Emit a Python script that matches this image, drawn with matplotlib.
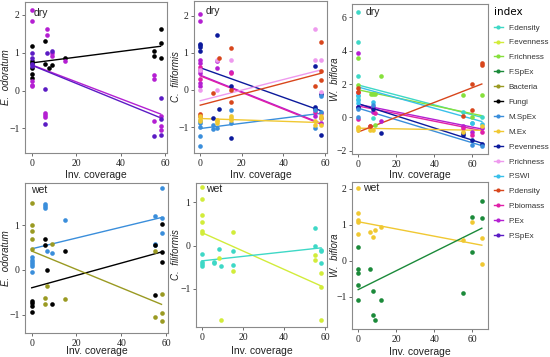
import matplotlib
matplotlib.use("Agg")
import matplotlib.pyplot as plt
from matplotlib.lines import Line2D

# colour for each index (legend order)
index_names = ["F.density", "F.evenness", "F.richness", "F.SpEx", "Bacteria", "Fungi",
               "M.SpEx", "M.Ex", "P.evenness", "P.richness", "P.SWI", "P.density",
               "P.biomass", "P.Ex", "P.SpEx"]
index_colors = ["#3ed8c6", "#d2ec3a", "#86e03c", "#1b8a3a", "#9a9a22", "#000000",
                "#3a8edb", "#f0c832", "#0c1a9c", "#ee9aee", "#38c0ea", "#d8461c",
                "#e020a8", "#b41fd2", "#5b1bc4"]

# each panel: index -> (x, y); fits: index -> (y at min x, y at max x)
eo_dry = {
    "Fungi": ([0, 0, 0, 0, 0, 0, 6, 6, 8, 9, 15, 55, 55, 58, 58, 58],
              [1.17, 0.79, 0.73, 0.6, 0.44, 0.33, 1.31, 0.71, 0.6, 0.68, 0.87, 1.04, 0.91, 1.62, 1.26, 0.87]),
    "P.Ex": ([0, 0, 0, 0, 0, 7, 7, 6, 6, 6, 9, 9, 15, 55, 55, 55, 58, 58, 58],
             [2.12, 1.83, 0.24, 0.16, 0.11, 1.62, 1.47, -0.6, -0.65, -0.7, 1.0, 0.9, 0.77, 0.42, 0.31, -0.8, -0.93, -1.05, -0.68]),
    "P.SpEx": ([0, 0, 0, 0, 6, 6, 7, 9, 55, 58, 58, 58],
               [1.0, 0.86, 0.7, 0.64, 0.05, -0.88, 1.0, 1.04, -1.2, -0.2, -0.75, -1.18]),
}
eo_dry_fit = {"Fungi": (0.73, 1.17), "P.Ex": (0.68, -0.62), "P.SpEx": (0.67, -0.72)}

cf_dry = {
    "P.Ex": ([0, 0, 0, 0, 0, 0, 0, 0, 8, 8, 15, 55, 58, 58],
             [2.05, 1.85, 0.8, 0.72, 0.55, 0.45, 0.2, 0.1, 0.78, 0.6, 0.48, -0.7, -0.9, -0.75]),
    "P.biomass": ([0, 0, 15, 55, 58],
                  [0.3, 0.62, 0.46, -0.6, -0.62]),
    "P.evenness": ([0, 0, 0, 0, 8, 9, 6, 15, 15, 55, 55, 55, 58, 58],
                   [1.25, 1.2, 1.15, 1.05, 1.48, -0.5, -0.75, 0.1, -1.3, 0.65, -0.45, -0.5, -1.22, -0.1]),
    "P.richness": ([0, 0, 8, 8, 15, 55, 55, 58, 58],
                   [0.0, 0.55, 0.0, 0.8, 0.8, 1.65, 0.8, 0.8, -0.05]),
    "P.density": ([0, 0, 6, 9, 15, 15, 15, 55, 58, 58, 58],
                  [-0.65, -0.7, -0.08, 0.85, 1.12, 0.0, -0.32, 0.12, 1.3, 0.5, 0.28]),
    "M.SpEx": ([0, 0, 0, 0, 0, 6, 6, 8, 15, 15, 55, 55, 58, 58],
               [-1.5, -1.25, -1.0, -0.9, -0.85, -1.05, -0.95, -1.02, -0.55, -0.9, -1.02, -0.55, -0.15, -0.6]),
    "M.Ex": ([0, 0, 0, 8, 8, 8, 15, 15, 15, 55, 55, 58, 58, 58],
             [-0.7, -0.78, -0.85, -0.8, -0.85, -0.9, -0.7, -0.75, -0.8, -0.85, -0.95, -0.7, -0.95, -0.75]),
}
cf_dry_fit = {"P.Ex": (0.4, -0.9), "P.biomass": (0.38, -0.92), "P.evenness": (0.6, -0.56),
              "P.richness": (-0.29, 0.54), "P.density": (-0.41, 0.45),
              "M.SpEx": (-1.04, -0.63), "M.Ex": (-0.77, -0.88)}

wb_dry = {
    "F.density": ([0, 0, 0, 0, 0, 8, 55, 60, 65],
                  [6.32, 4.54, 2.48, 1.3, 1.1, -0.06, 0.34, -0.36, 0.04]),
    "F.richness": ([0, 0, 7, 8, 9, 12, 9, 55, 60, 65],
                   [3.58, 1.94, 1.38, 1.38, 1.38, 2.48, -0.46, 1.36, 0.04, 1.36]),
    "P.SWI": ([0, 0, 0, 8, 60, 65],
              [1.34, 1.04, 0.84, 0.94, -0.36, -0.4]),
    "P.Ex": ([0, 0, 8, 8, 12, 55, 60, 65],
             [3.88, 0.64, 0.64, 0.3, -0.2, -0.52, -0.86, -0.66]),
    "P.biomass": ([0, 0, 6, 9, 55, 60, 65],
                  [1.5, -0.1, -0.5, 0.24, -0.64, -1.06, -0.86]),
    "P.evenness": ([0, 8, 12, 55, 55, 60, 65],
                   [0.6, 0.5, -0.96, -0.96, -1.06, -1.36, -1.6]),
    "M.SpEx": ([0, 0, 8, 60, 65],
               [0.04, 0.5, 0.74, -1.66, -1.7]),
    "M.Ex": ([0, 0, 0, 6, 8, 55, 65],
             [-0.56, -0.66, -0.76, -0.76, -0.76, -0.86, -0.52]),
    "P.density": ([0, 0, 6, 55, 60, 60, 65, 65],
                  [1.74, 1.5, -0.52, 0.08, 1.98, 0.44, 3.28, 3.14]),
}
wb_dry_fit = {"F.density": (1.94, 0.0), "F.richness": (1.65, 0.1), "P.SWI": (1.82, -0.25),
              "P.Ex": (0.78, -0.7), "P.biomass": (0.68, -0.8), "P.evenness": (0.82, -1.55),
              "M.SpEx": (0.55, -1.7), "M.Ex": (-0.65, -0.78), "P.density": (-0.88, 2.0)}

eo_wet = {
    "M.SpEx": ([0, 0, 0, 0, 0, 0, 6, 6, 6, 7, 9, 15, 55, 55, 55, 58, 58, 58],
               [0.28, 0.22, 0.17, 0.12, 0.08, -0.05, 1.47, 1.43, 1.38, 0.43, 0.37, 1.11, 1.2, 0.58, 0.55, 1.83, 1.16, 0.83]),
    "Fungi": ([0, 0, 0, 0, 6, 6, 7, 9, 15, 55, 55, 58, 58, 58],
              [-0.7, -0.75, -0.8, -0.93, 0.7, 0.55, -0.01, -0.77, 0.43, 0.55, -0.56, 1.02, 0.4, 0.18]),
    "Bacteria": ([0, 0, 0, 0, 0, 6, 6, 7, 9, 15, 55, 55, 58, 58, 58],
                 [1.5, 1.01, 0.87, 0.68, 0.47, -0.62, -0.77, -0.35, 0.58, -0.65, 0.43, -1.06, -0.53, -0.96, -1.15]),
}
eo_wet_fit = {"M.SpEx": (0.47, 1.17), "Fungi": (-0.4, 0.4), "Bacteria": (0.42, -0.77)}

cf_wet = {
    "F.evenness": ([0, 0, 0, 0, 0, 0, 8, 9, 15, 15, 55, 55, 58, 58, 58],
                   [1.35, 1.08, 0.72, 0.55, 0.33, 0.3, -0.28, -1.72, 0.32, -0.58, -0.22, -0.33, -0.62, -0.95, -1.72]),
    "F.density": ([0, 0, 0, 0, 6, 6, 8, 9, 15, 15, 55, 55, 58, 58, 58],
                  [-0.2, -0.38, -0.43, -0.48, -0.38, -0.4, -0.08, -0.48, -0.13, -0.45, 0.4, 0.0, -0.1, -0.13, -0.4]),
}
cf_wet_fit = {"F.evenness": (0.3, -0.93), "F.density": (-0.35, -0.05)}

wb_wet = {
    "M.Ex": ([0, 0, 0, 0, 0, 6, 8, 9, 12, 55, 60, 65, 65],
             [2.02, 1.32, 1.12, 1.08, 0.75, 0.8, 0.65, 0.85, 0.93, 0.57, 1.07, 0.64, -0.09]),
    "F.SpEx": ([0, 0, 0, 0, 0, 6, 8, 8, 9, 12, 55, 60, 60, 65, 65],
               [0.38, -0.22, -0.35, -0.68, -1.1, -0.22, -0.85, -1.5, -1.65, -1.1, -0.89, 1.22, 0.23, 1.66, 1.18]),
}
wb_wet_fit = {"M.Ex": (1.08, 0.43), "F.SpEx": (-0.8, 0.9)}

x_ticks = [0, 20, 40, 60]

W, H = 550, 357
color_of = dict(zip(index_names, index_colors))


def box(l, t, r, b):
    return [l / W, 1 - b / H, (r - l) / W, (b - t) / H]


# rect, data, fits, ylabel, tag, xlim, ylim, yticks, tag pos, ylabel x, xlabel y
panels = [
    (box(25, 2, 167, 153), eo_dry, eo_dry_fit, "E.  odoratum", "dry", (-3, 60.9), (-1.65, 2.34),
     [-1, 0, 1, 2], (0.06, 0.93), -0.1, -0.11),
    (box(194, 1, 327, 153), cf_dry, cf_dry_fit, "C.  filiformis", "dry", (-3, 60.9), (-1.7, 2.4),
     [-1, 0, 1, 2], (0.09, 0.935), -0.1, -0.11),
    (box(352, 4, 488, 154), wb_dry, wb_dry_fit, "W.  biflora", "dry", (-3.25, 68.25), (-2.2, 6.8),
     [-2, 0, 2, 4, 6], (0.1, 0.945), -0.085, -0.105),
    (box(25, 183, 168, 333), eo_wet, eo_wet_fit, "E.  odoratum", "wet", (-3, 60.9), (-1.41, 1.94),
     [-1, 0, 1], (0.045, 0.955), -0.1, -0.09),
    (box(196, 183, 327, 327), cf_wet, cf_wet_fit, "C.  filiformis", "wet", (-3, 60.9), (-1.88, 1.45),
     [-1, 0, 1], (0.075, 0.96), -0.115, -0.13),
    (box(352, 182, 488, 329), wb_wet, wb_wet_fit, "W.  biflora", "wet", (-3.25, 68.25), (-1.89, 2.18),
     [-1, 0, 1, 2], (0.08, 0.96), -0.085, -0.12),
]

fig = plt.figure(figsize=(W / 100, H / 100), dpi=100)

for rect, data, fits, ylabel, tag, xlim, ylim, yticks, tpos, ylx, xly in panels:
    ax = fig.add_axes(rect)
    for name, (xs, ys) in data.items():
        c = color_of[name]
        ax.scatter(xs, ys, s=11, color=c, linewidths=0, zorder=3)
        y0, y1 = fits[name]
        ax.plot([min(xs), max(xs)], [y0, y1], color=c, lw=1.0, zorder=2)
    ax.set_xlim(*xlim)
    ax.set_ylim(*ylim)
    ax.set_xticks(x_ticks)
    ax.set_yticks(yticks)
    ax.tick_params(length=2.5, width=0.6, color="#555555", labelsize=7, pad=1.5)
    for lab in ax.get_xticklabels() + ax.get_yticklabels():
        lab.set_family("Liberation Serif")
        lab.set_color("#222222")
    for sp in ax.spines.values():
        sp.set_color("#8a8a8a")
        sp.set_linewidth(0.8)
    ax.set_xlabel("Inv. coverage", fontsize=7.5, family="Liberation Sans", color="#222222")
    ax.set_ylabel(ylabel, fontsize=7, family="Liberation Sans", style="italic", color="#222222")
    ax.yaxis.set_label_coords(ylx, 0.5)
    ax.xaxis.set_label_coords(0.5, xly)
    ax.text(tpos[0], tpos[1], tag, transform=ax.transAxes, fontsize=7.5, family="Liberation Sans",
            ha="left", va="center", color="#222222")

handles = [Line2D([], [], color=c, lw=1.0, marker="o", markersize=3, markeredgewidth=0)
           for c in index_colors]
leg = fig.legend(handles, index_names, loc="upper left", bbox_to_anchor=(488 / W, 1 - 1 / H),
                 frameon=False, title="index", title_fontsize=7.5,
                 handlelength=1.2, handletextpad=0.6, labelspacing=0.9, borderpad=0.2,
                 alignment="left", prop={"family": "Liberation Sans", "size": 5.8})
for t in leg.get_texts():
    t.set_color("#333333")

fig.savefig("out.png", dpi=100)
